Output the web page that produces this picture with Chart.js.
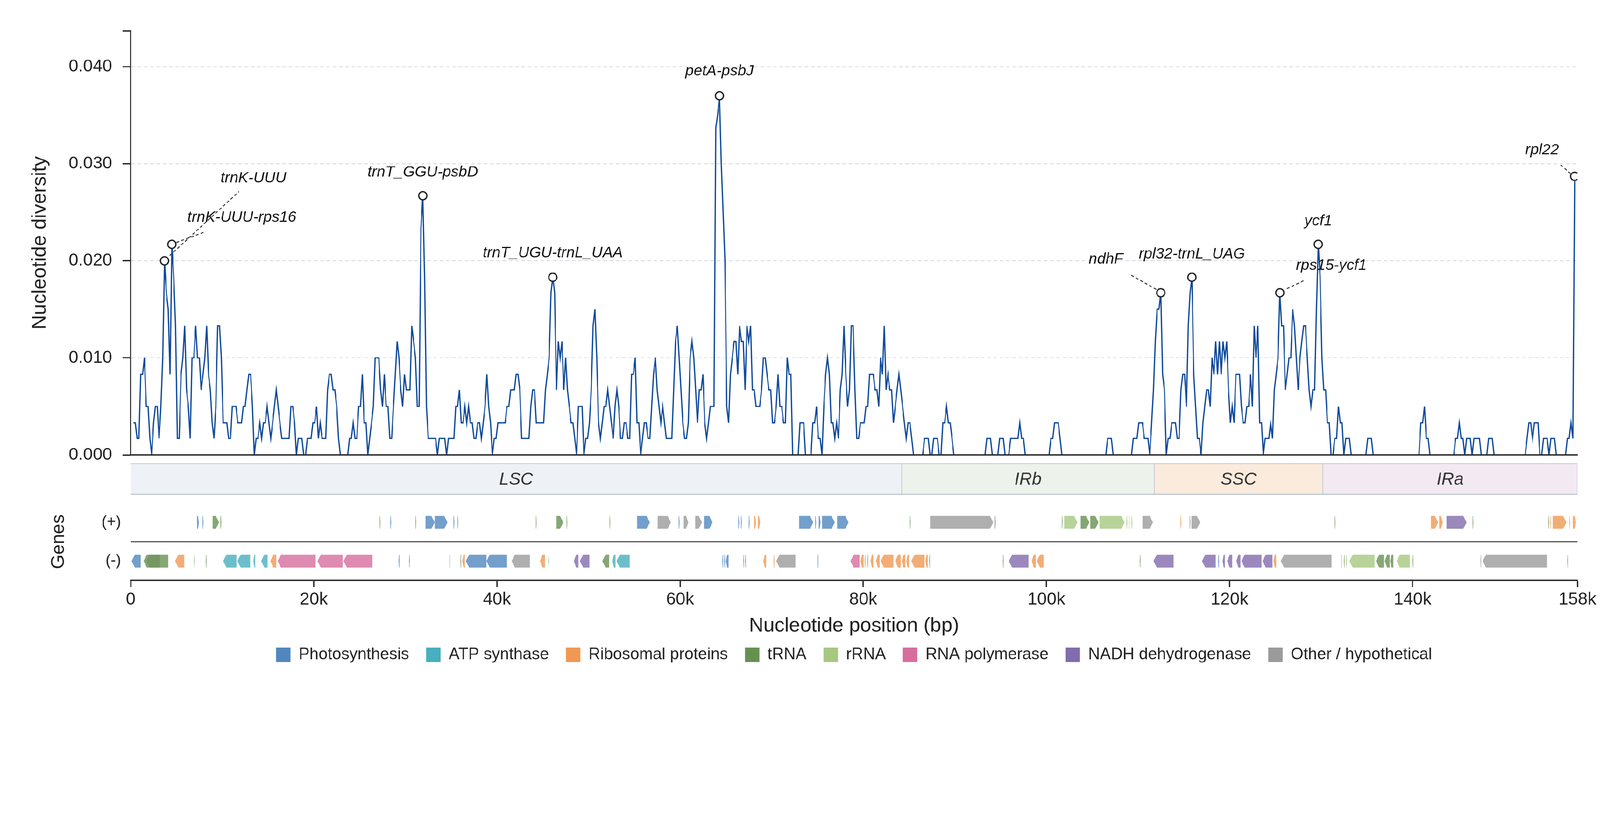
<!DOCTYPE html>
<html><head><meta charset="utf-8">
<script src="https://cdn.jsdelivr.net/npm/chart.js@4.4.1/dist/chart.umd.min.js"></script>
<style>
html,body{margin:0;padding:0;background:#fff;overflow:hidden;}
#wrap{position:absolute;left:0;top:0;width:4322px;height:2102px;overflow:hidden;background:#fff;transform-origin:0 0;}
canvas{position:absolute;left:0;}
</style></head><body>
<div id="wrap">
<canvas id="cDiv" width="4322" height="1260" style="top:0px;width:4322px;height:1260px"></canvas>
<canvas id="cReg" width="4322" height="100" style="top:1245px;width:4322px;height:100px"></canvas>
<canvas id="cGene" width="4322" height="802" style="top:1300px;width:4322px;height:802px"></canvas>
</div>
<script>
// fit the 4322x2102 design into the actual viewport
(function(){
  const s = Math.min(window.innerWidth / 4322, window.innerHeight / 2102);
  document.getElementById('wrap').style.transform = 'scale(' + s + ')';
})();

// ===================== DATA =====================
const genomeLength = 158000;
const windowStep = 200;          // sliding-window step (bp)
const firstWindowCenter = 300;   // centre of first window (bp)

// nucleotide diversity per window
const diversity = [
.0033,.0033,.0017,.0017,.0083,.0083,.01,.005,.005,.0017,0,.0033,.005,.005,.0017,.005,.01,.02,.0167,.015,
.0083,.0217,.0183,.0133,.0017,.0017,.0083,.01,.0133,.0067,.005,.0017,.01,.01,.0133,.01,.01,.0067,.0083,.01,
.0133,.0083,.0067,.0033,.0017,.005,.0133,.0133,.01,.0033,.0033,.0033,.0017,.0017,.005,.005,.005,.0033,.0033,.0033,
.005,.005,.0067,.0083,.0083,.005,0,.0017,.0017,.0033,.0017,.0033,.0033,.005,.0033,.0017,.0033,.005,.0067,.005,
.0033,.0017,.0017,.0017,.0017,.0017,.005,.005,.0033,0,.0017,.0017,.0017,0,0,.0017,.0017,.0017,.0033,.0033,
.005,.0017,.0033,.0017,.0017,.0017,.0067,.0083,.0083,.0067,.0067,.005,.0017,0,0,0,0,0,.0017,.0017,
.0033,.0017,.0017,.005,.005,.0083,.0033,.0033,0,.0017,.0033,.005,.01,.01,.01,.0067,.005,.0083,.005,.005,
.0017,.0017,.005,.0083,.0117,.01,.0067,.005,.0083,.0067,.0067,.0067,.0133,.0117,.01,.005,.005,.0233,.0267,.0183,
.005,.0017,.0017,.0017,.0017,.0017,0,.0017,.0017,.0017,.0017,0,.0017,.0017,.0017,.0017,.005,.005,.0067,.0033,
.0033,.005,.0033,.005,.0033,.0033,.0017,.0017,.0033,.0033,.0017,.0033,.005,.0083,.005,.0033,0,.0017,.0017,.0033,
.0033,.0033,.0033,.0033,.005,.005,.0067,.0067,.0067,.0083,.0083,.0067,.0017,.0017,.0017,.0017,.0017,.005,.0067,.0067,
.0033,.0033,.0033,.0033,.0033,.0067,.0083,.01,.0167,.0183,.0167,.0067,.0117,.01,.0117,.0067,.01,.0067,.005,.0033,
.0033,.0017,0,.005,.005,.005,0,.0017,.0017,.0033,.0067,.0133,.015,.01,.0033,.0017,.0033,.005,.005,.0067,
.005,.0033,.0017,.005,.0067,.005,.0017,.0017,.0033,.0033,.0017,.0017,.0083,.0083,.01,.0033,.0033,0,.0017,.0033,
.0033,.0017,.0017,.005,.0083,.01,.0067,.005,.0033,.005,.0033,.0017,.0017,.0017,.0017,.0067,.0117,.0133,.01,.0067,
.0033,.0017,.0017,.0033,.01,.0117,.01,.0067,.0033,.0067,.0067,.0083,.0033,.0017,.0033,.005,.005,.005,.0337,.035,
.037,.03,.025,.02,.005,.0033,.0083,.01,.0117,.0117,.0083,.0133,.0117,.0117,.0067,.0133,.0117,.0133,.0067,.0067,
.005,.005,.005,.0067,.01,.01,.0083,.0067,.0067,.0033,.0033,.005,.0083,.005,.005,.0033,.0033,.01,.0083,.0083,
0,0,0,0,.0033,.0033,.0033,0,0,0,0,.0033,.0033,.005,.0017,.0017,0,.005,.0083,.01,
.0083,.0033,.0033,.0017,.0033,.0017,.0067,.0083,.0133,.0083,.005,.0067,.0133,.0133,.0067,.0017,.0017,.0033,.0033,.0033,
.005,.005,.0083,.0083,.0083,.0067,.0067,.005,.01,.0083,.0133,.0067,.0083,.0067,.0067,.0033,.005,.0067,.0083,.0067,
.005,.0033,.0017,.0033,.0033,.0017,0,0,0,0,0,0,.0017,.0017,.0017,0,0,.0017,.0017,.0017,
0,0,.0033,.0033,.005,.0033,.0033,.0017,0,0,0,0,0,0,0,0,0,0,0,0,
0,0,0,0,0,0,.0017,.0017,.0017,0,0,0,0,.0017,.0017,.0017,0,0,0,.0017,
.0017,.0017,.0017,.0017,.0033,.0017,.0017,0,0,0,0,0,0,0,0,0,0,0,0,0,
0,.0017,.0017,.0033,.0033,.0033,.0017,0,0,0,0,0,0,0,0,0,0,0,0,0,
0,0,0,0,0,0,0,0,0,0,0,0,.0017,.0017,.0017,0,0,0,0,0,
0,0,0,0,0,0,.0017,.0017,.0017,.0033,.0033,.0033,.0017,.0017,.0017,0,.0033,.0067,.0117,.015,
.015,.0167,.0083,.0067,0,.0017,.0017,.0033,.0033,.0033,.0017,.0017,.0067,.0083,.0083,.005,.0133,.0167,.0183,.0083,
.005,.0017,.0017,0,.0033,.005,.0067,.0067,.005,.01,.0083,.0117,.0083,.0117,.0083,.0117,.01,.0117,.0067,.0033,
.005,.0033,.0083,.0083,.0083,.005,.0033,.0033,.005,.005,.0083,.005,.0133,.01,.0133,.0033,.0033,0,.0017,.0017,
.0017,.0033,.0017,.0067,.0083,.01,.0167,.0133,.0133,.0067,.0083,.01,.01,.015,.0133,.01,.0067,.01,.0117,.0133,
.0133,.01,.0067,.005,.0067,.0067,.015,.0217,.0183,.01,.0067,.0067,.0033,.0033,0,0,.0017,.0017,.005,.0033,
.0033,0,.0017,.0017,.0017,0,0,0,0,0,0,0,0,0,.0017,.0017,.0017,0,0,0,
0,0,0,0,0,0,0,0,0,0,0,0,0,0,0,0,0,0,0,0,
0,0,0,.0033,.0033,.005,.0017,.0017,0,0,0,0,0,0,0,0,0,0,0,0,
0,0,.0017,.0017,.0033,.0017,.0017,0,.0017,.0017,.0017,0,.0017,.0017,.0017,.0017,0,0,0,0,
.0017,.0017,.0017,0,0,0,0,0,0,0,0,0,0,0,0,0,0,0,0,0,
0,.0017,.0033,.0033,.0017,.0033,.0033,.0033,0,0,.0017,.0017,.0017,0,.0017,.0017,.0017,0,0,0,
0,0,0,.0017,.0017,.0033,.0017,.0287
];

const yTickValues = [0, 0.01, 0.02, 0.03, 0.04];
const yAxisMax = 0.0437;
const xTickValues = [0, 20000, 40000, 60000, 80000, 100000, 120000, 140000, 158000];

// annotated peaks: label + window index into `diversity`
const peakNames = ['trnK-UUU','trnK-UUU-rps16','trnT_GGU-psbD','trnT_UGU-trnL_UAA','petA-psbJ','ndhF','rpl32-trnL_UAG','rps15-ycf1','ycf1','rpl22'];
const peakWindows = [17, 21, 158, 229, 320, 561, 578, 626, 647, 787];

// genome regions
const regionNames  = ['LSC','IRb','SSC','IRa'];
const regionStarts = [0, 84200, 111800, 130200];
const regionEnds   = [84200, 111800, 130200, 158000];

// genes: [start, end, strand]
const geneCategories = ['Photosynthesis','ATP synthase','Ribosomal proteins','tRNA','rRNA','RNA polymerase','NADH dehydrogenase','Other / hypothetical'];
const genesPhotosynthesis = [
 [7250,7450,'+'],[7850,7950,'+'],[28350,28450,'+'],[32200,33200,'+'],[33200,34600,'+'],[35250,35350,'+'],
 [55300,56700,'+'],[59850,59950,'+'],[62600,63550,'+'],[66350,66450,'+'],[66650,66750,'+'],[67500,67600,'+'],
 [73000,74550,'+'],[74750,74850,'+'],[75150,75350,'+'],[75500,76900,'+'],[77150,78400,'+'],
 [100,1100,'-'],[29250,29350,'-'],[36600,38850,'-'],[38850,41100,'-'],[64600,64700,'-'],[64800,64900,'-'],
 [65000,65300,'-'],[75000,75100,'-'],[118750,118850,'-']
];
const genesATP = [
 [10100,11550,'-'],[11650,13050,'-'],[13400,13600,'-'],[14250,14950,'-'],[52600,52950,'-'],[53050,54500,'-']
];
const genesRibosomal = [
 [68100,68300,'+'],[68500,68750,'+'],[114650,114750,'+'],[142000,142800,'+'],[142900,143300,'+'],
 [155030,155110,'+'],[155300,156800,'+'],[157130,157210,'+'],[157500,157850,'+'],
 [4850,5850,'-'],[15250,15900,'-'],[36200,36500,'-'],[44700,45250,'-'],[69100,69400,'-'],[70200,70300,'-'],
 [79700,80050,'-'],[80150,80250,'-'],[80800,81100,'-'],[81400,81800,'-'],[81900,83300,'-'],[83500,84100,'-'],
 [84200,84600,'-'],[84700,85000,'-'],[85250,86700,'-'],[86800,87050,'-'],[98400,98850,'-'],[98950,99700,'-'],
 [124800,125100,'-']
];
const genesTRNA = [
 [8950,9650,'+'],[9800,9900,'+'],[27200,27280,'+'],[31100,31180,'+'],[35700,35780,'+'],[44250,44330,'+'],
 [46500,47250,'+'],[47600,47680,'+'],[52300,52380,'+'],[85100,85180,'+'],[101700,101780,'+'],
 [103750,104700,'+'],[104800,105700,'+'],[131500,131580,'+'],[146550,146630,'+'],[154830,154910,'+'],
 [1400,4100,'-'],[6900,6980,'-'],[8200,8280,'-'],[30400,30480,'-'],[34800,34880,'-'],[36000,36080,'-'],
 [45600,45680,'-'],[51500,52250,'-'],[66900,66980,'-'],[67100,67180,'-'],[87200,87280,'-'],[95250,95330,'-'],
 [110200,110280,'-'],[132200,132280,'-'],[132500,132580,'-'],[136000,136850,'-'],[136950,137500,'-'],
 [137550,137900,'-'],[140000,140080,'-'],[156880,156960,'-']
];
const genesRRNA = [
 [101950,103400,'+'],[105800,108550,'+'],[108750,108850,'+'],[109000,109100,'+'],[109300,109400,'+'],
 [132700,132800,'-'],[133100,135850,'-'],[138250,139700,'-']
];
const genesRNAPol = [
 [16050,20200,'-'],[20400,23150,'-'],[23250,26400,'-'],[78600,79600,'-']
];
const genesNADH = [
 [143700,145900,'+'],
 [48400,48900,'-'],[49050,50100,'-'],[95900,98050,'-'],[111700,113900,'-'],[117000,118500,'-'],
 [119250,119500,'-'],[119750,120300,'-'],[120750,121200,'-'],[121300,123500,'-'],[123600,124700,'-']
];
const genesOther = [
 [57550,59000,'+'],[60400,60900,'+'],[61650,62400,'+'],[87300,94200,'+'],[94350,94500,'+'],
 [110500,111650,'+'],[115650,115750,'+'],[115850,116800,'+'],
 [1700,3200,'-'],[41600,43600,'-'],[70500,72600,'-'],[80450,80550,'-'],[125600,131150,'-'],
 [137600,137700,'-'],[147400,147480,'-'],[147650,154700,'-']
];
const geneData = [genesPhotosynthesis, genesATP, genesRibosomal, genesTRNA, genesRRNA, genesRNAPol, genesNADH, genesOther];
const strandLabels = ['(+)', '(-)'];

// ===================== STYLE =====================
const FONT = "'Liberation Sans', Arial, Helvetica, sans-serif";
Chart.defaults.font.family = FONT;
Chart.defaults.color = '#222';
const INK = '#222';
const lineColor = '#0F4A9B';
const gridColor = '#D6DDE3';
const regionColors = ['#EEF2F6','#EDF3EB','#FAEBDC','#F3E9F3'];
const categoryColors = ['#5087BF','#47AFBD','#EF9953','#659150','#A6C880','#D76D9D','#826CAE','#9B9B9B'];
// label placement for the annotated peaks (pixel offsets from the marker)
const labelLayout = [
 {dx:240, dy:-223, lead:[14,-14,201,-187]},
 {dx:189, dy:-72,  lead:[12,-5,91,-34]},
 {dx:0,   dy:-63,  lead:null},
 {dx:0,   dy:-66,  lead:null},
 {dx:0,   dy:-66,  lead:null},
 {dx:-148,dy:-90,  lead:[-12,-9,-86,-51]},
 {dx:0,   dy:-63,  lead:null},
 {dx:139, dy:-73,  lead:[19,-11,67,-34]},
 {dx:0,   dy:-62,  lead:null},
 {dx:-88, dy:-71,  lead:[-11,-7,-41,-34]}
];
function noOverhang(s) { s.paddingLeft = 0; s.paddingRight = 0; s.paddingTop = 0; s.paddingBottom = 0; }

// ===================== CHART 1: diversity =====================
const divPoints = diversity.map((v, i) => ({x: firstWindowCenter + i * windowStep, y: v}));
const peakPoints = peakWindows.map(i => divPoints[i]);

const annotPlugin = {
  id: 'annot',
  afterDatasetsDraw(chart) {
    const {ctx, scales: {x, y}} = chart;
    ctx.save();
    peakPoints.forEach((p, i) => {
      const px = x.getPixelForValue(p.x), py = y.getPixelForValue(p.y);
      const L = labelLayout[i];
      if (L.lead) {
        ctx.beginPath();
        ctx.setLineDash([8, 6]);
        ctx.lineWidth = 2.6;
        ctx.strokeStyle = '#333';
        ctx.moveTo(px + L.lead[0], py + L.lead[1]);
        ctx.lineTo(px + L.lead[2], py + L.lead[3]);
        ctx.stroke();
      }
      ctx.setLineDash([]);
      ctx.font = 'italic 41px ' + FONT;
      ctx.fillStyle = '#111';
      ctx.textAlign = 'center';
      ctx.textBaseline = 'middle';
      ctx.fillText(peakNames[i], px + L.dx, py + L.dy);
    });
    ctx.restore();
  }
};

new Chart(document.getElementById('cDiv'), {
  type: 'line',
  data: {
    datasets: [
      {type: 'scatter', data: peakPoints, order: 0, showLine: false,
       pointRadius: 11, pointHoverRadius: 11, pointBackgroundColor: '#fff',
       pointBorderColor: INK, pointBorderWidth: 3.5},
      {type: 'line', data: divPoints, order: 1, borderColor: lineColor, borderWidth: 3.4,
       pointRadius: 0, tension: 0, fill: false}
    ]
  },
  options: {
    responsive: false, animation: false, devicePixelRatio: 1, events: [],
    layout: {padding: {left: 0, right: 61, top: 83, bottom: 31}},
    plugins: {legend: {display: false}, tooltip: {enabled: false}},
    scales: {
      x: {type: 'linear', min: 0, max: genomeLength,
          ticks: {display: false}, grid: {display: false, drawTicks: false},
          border: {display: true, color: INK, width: 3.5, z: 1},
          afterFit(s) { s.height = 0; noOverhang(s); }},
      y: {type: 'linear', min: 0, max: yAxisMax,
          afterBuildTicks(s) { s.ticks = yTickValues.concat([yAxisMax]).map(v => ({value: v})); },
          ticks: {font: {size: 47}, color: INK, padding: 28,
                  callback: v => yTickValues.includes(v) ? v.toFixed(3) : ''},
          grid: {color: c => (c.tick && c.tick.value > 0.041) ? 'rgba(0,0,0,0)' : gridColor,
                 lineWidth: 2.6, tickLength: 22, tickColor: INK, tickWidth: 3.5},
          border: {display: true, color: INK, width: 3.5, dash: [10, 7], z: 1},
          title: {display: true, text: 'Nucleotide diversity', font: {size: 54}, color: INK,
                  padding: {top: 76, bottom: 0}},
          afterFit(s) { s.width = 353; noOverhang(s); }}
    }
  },
  plugins: [annotPlugin]
});

// ===================== CHART 2: regions =====================
const regionLabelPlugin = {
  id: 'regionLabels',
  afterDatasetsDraw(chart) {
    const ctx = chart.ctx;
    const meta = chart.getDatasetMeta(0);
    ctx.save();
    ctx.font = 'italic 47px ' + FONT;
    ctx.fillStyle = '#333';
    ctx.textAlign = 'center';
    ctx.textBaseline = 'middle';
    meta.data.forEach((bar, i) => {
      const p = bar.getProps(['x', 'y', 'base'], true);
      ctx.fillText(regionNames[i], (p.x + p.base) / 2, p.y + 2);
    });
    ctx.restore();
  }
};

new Chart(document.getElementById('cReg'), {
  type: 'bar',
  data: {
    labels: ['region'],
    datasets: [{
      data: regionNames.map((n, i) => ({y: 'region', x: [regionStarts[i], regionEnds[i]]})),
      backgroundColor: regionColors, borderColor: '#BAC4CC',
      borderWidth: {top: 3, bottom: 3, left: 1.2, right: 1.2}, borderSkipped: false,
      barPercentage: 1, categoryPercentage: 1
    }]
  },
  options: {
    indexAxis: 'y', responsive: false, animation: false, devicePixelRatio: 1, events: [],
    layout: {padding: {left: 353, right: 61, top: 6, bottom: 8}},
    plugins: {legend: {display: false}, tooltip: {enabled: false}},
    scales: {
      x: {type: 'linear', min: 0, max: genomeLength, display: false},
      y: {type: 'category', labels: ['region'], display: false}
    }
  },
  plugins: [regionLabelPlugin]
});

// ===================== CHART 3: genes =====================
const arrowPlugin = {
  id: 'arrows',
  beforeDatasetDraw(chart, args) {
    const ctx = chart.ctx;
    const ds = chart.data.datasets[args.index];
    const genes = geneData[args.index];
    ctx.save();
    ctx.globalAlpha = 0.8;
    ctx.fillStyle = ds.backgroundColor;
    args.meta.data.forEach((bar, j) => {
      const p = bar.getProps(['x', 'y', 'base', 'height'], true);
      let x0 = Math.min(p.x, p.base), x1 = Math.max(p.x, p.base);
      if (x1 - x0 < 1.6) { const c = (x0 + x1) / 2; x0 = c - 0.8; x1 = c + 0.8; }
      const w = x1 - x0, h2 = p.height / 2, yc = p.y;
      const head = Math.min(9, w * 0.5);
      ctx.beginPath();
      if (genes[j][2] === '+') {
        ctx.moveTo(x0, yc - h2); ctx.lineTo(x1 - head, yc - h2); ctx.lineTo(x1, yc);
        ctx.lineTo(x1 - head, yc + h2); ctx.lineTo(x0, yc + h2);
      } else {
        ctx.moveTo(x1, yc - h2); ctx.lineTo(x0 + head, yc - h2); ctx.lineTo(x0, yc);
        ctx.lineTo(x0 + head, yc + h2); ctx.lineTo(x1, yc + h2);
      }
      ctx.closePath();
      ctx.fill();
    });
    ctx.restore();
    return false;
  }
};
const separatorPlugin = {
  id: 'separator',
  afterDraw(chart) {
    const {ctx, chartArea, scales: {y}} = chart;
    const yy = (y.getPixelForValue(0) + y.getPixelForValue(1)) / 2;
    ctx.save();
    ctx.strokeStyle = '#333';
    ctx.lineWidth = 3.5;
    ctx.beginPath();
    ctx.moveTo(chartArea.left, yy);
    ctx.lineTo(chartArea.right, yy);
    ctx.stroke();
    ctx.restore();
  }
};

new Chart(document.getElementById('cGene'), {
  type: 'bar',
  data: {
    labels: strandLabels,
    datasets: geneCategories.map((name, c) => ({
      label: name,
      data: geneData[c].map(g => ({y: g[2] === '+' ? strandLabels[0] : strandLabels[1], x: [g[0], g[1]]})),
      backgroundColor: categoryColors[c], borderWidth: 0, barThickness: 35, grouped: false
    }))
  },
  options: {
    indexAxis: 'y', responsive: false, animation: false, devicePixelRatio: 1, events: [],
    layout: {padding: {left: 0, right: 61, top: 59, bottom: 301}},
    plugins: {
      tooltip: {enabled: false},
      legend: {display: true, position: 'bottom', fullSize: false,
               labels: {boxWidth: 39, boxHeight: 39, padding: 46, font: {size: 44}, color: INK}}
    },
    scales: {
      x: {type: 'linear', min: 0, max: genomeLength,
          afterBuildTicks(s) { s.ticks = xTickValues.map(v => ({value: v})); },
          ticks: {font: {size: 47}, color: INK, padding: 6, autoSkip: false, maxRotation: 0,
                  callback: v => v === 0 ? '0' : (v / 1000) + 'k'},
          grid: {display: true, drawOnChartArea: false, drawTicks: true, tickLength: 18,
                 tickColor: INK, tickWidth: 3.5, color: INK},
          border: {display: true, color: INK, width: 3.5},
          title: {display: true, text: 'Nucleotide position (bp)', font: {size: 54}, color: INK,
                  padding: {top: 0, bottom: -23}},
          afterFit(s) { s.height = 133; noOverhang(s); }},
      y: {type: 'category', labels: strandLabels, offset: true,
          grid: {display: false, drawTicks: false}, border: {display: false},
          ticks: {font: {size: 42}, color: INK, padding: 26},
          title: {display: true, text: 'Genes', font: {size: 50}, color: INK, padding: {top: 129, bottom: 0}},
          afterFit(s) { s.width = 353; noOverhang(s); }}
    }
  },
  plugins: [arrowPlugin, separatorPlugin]
});
</script>
</body></html>
